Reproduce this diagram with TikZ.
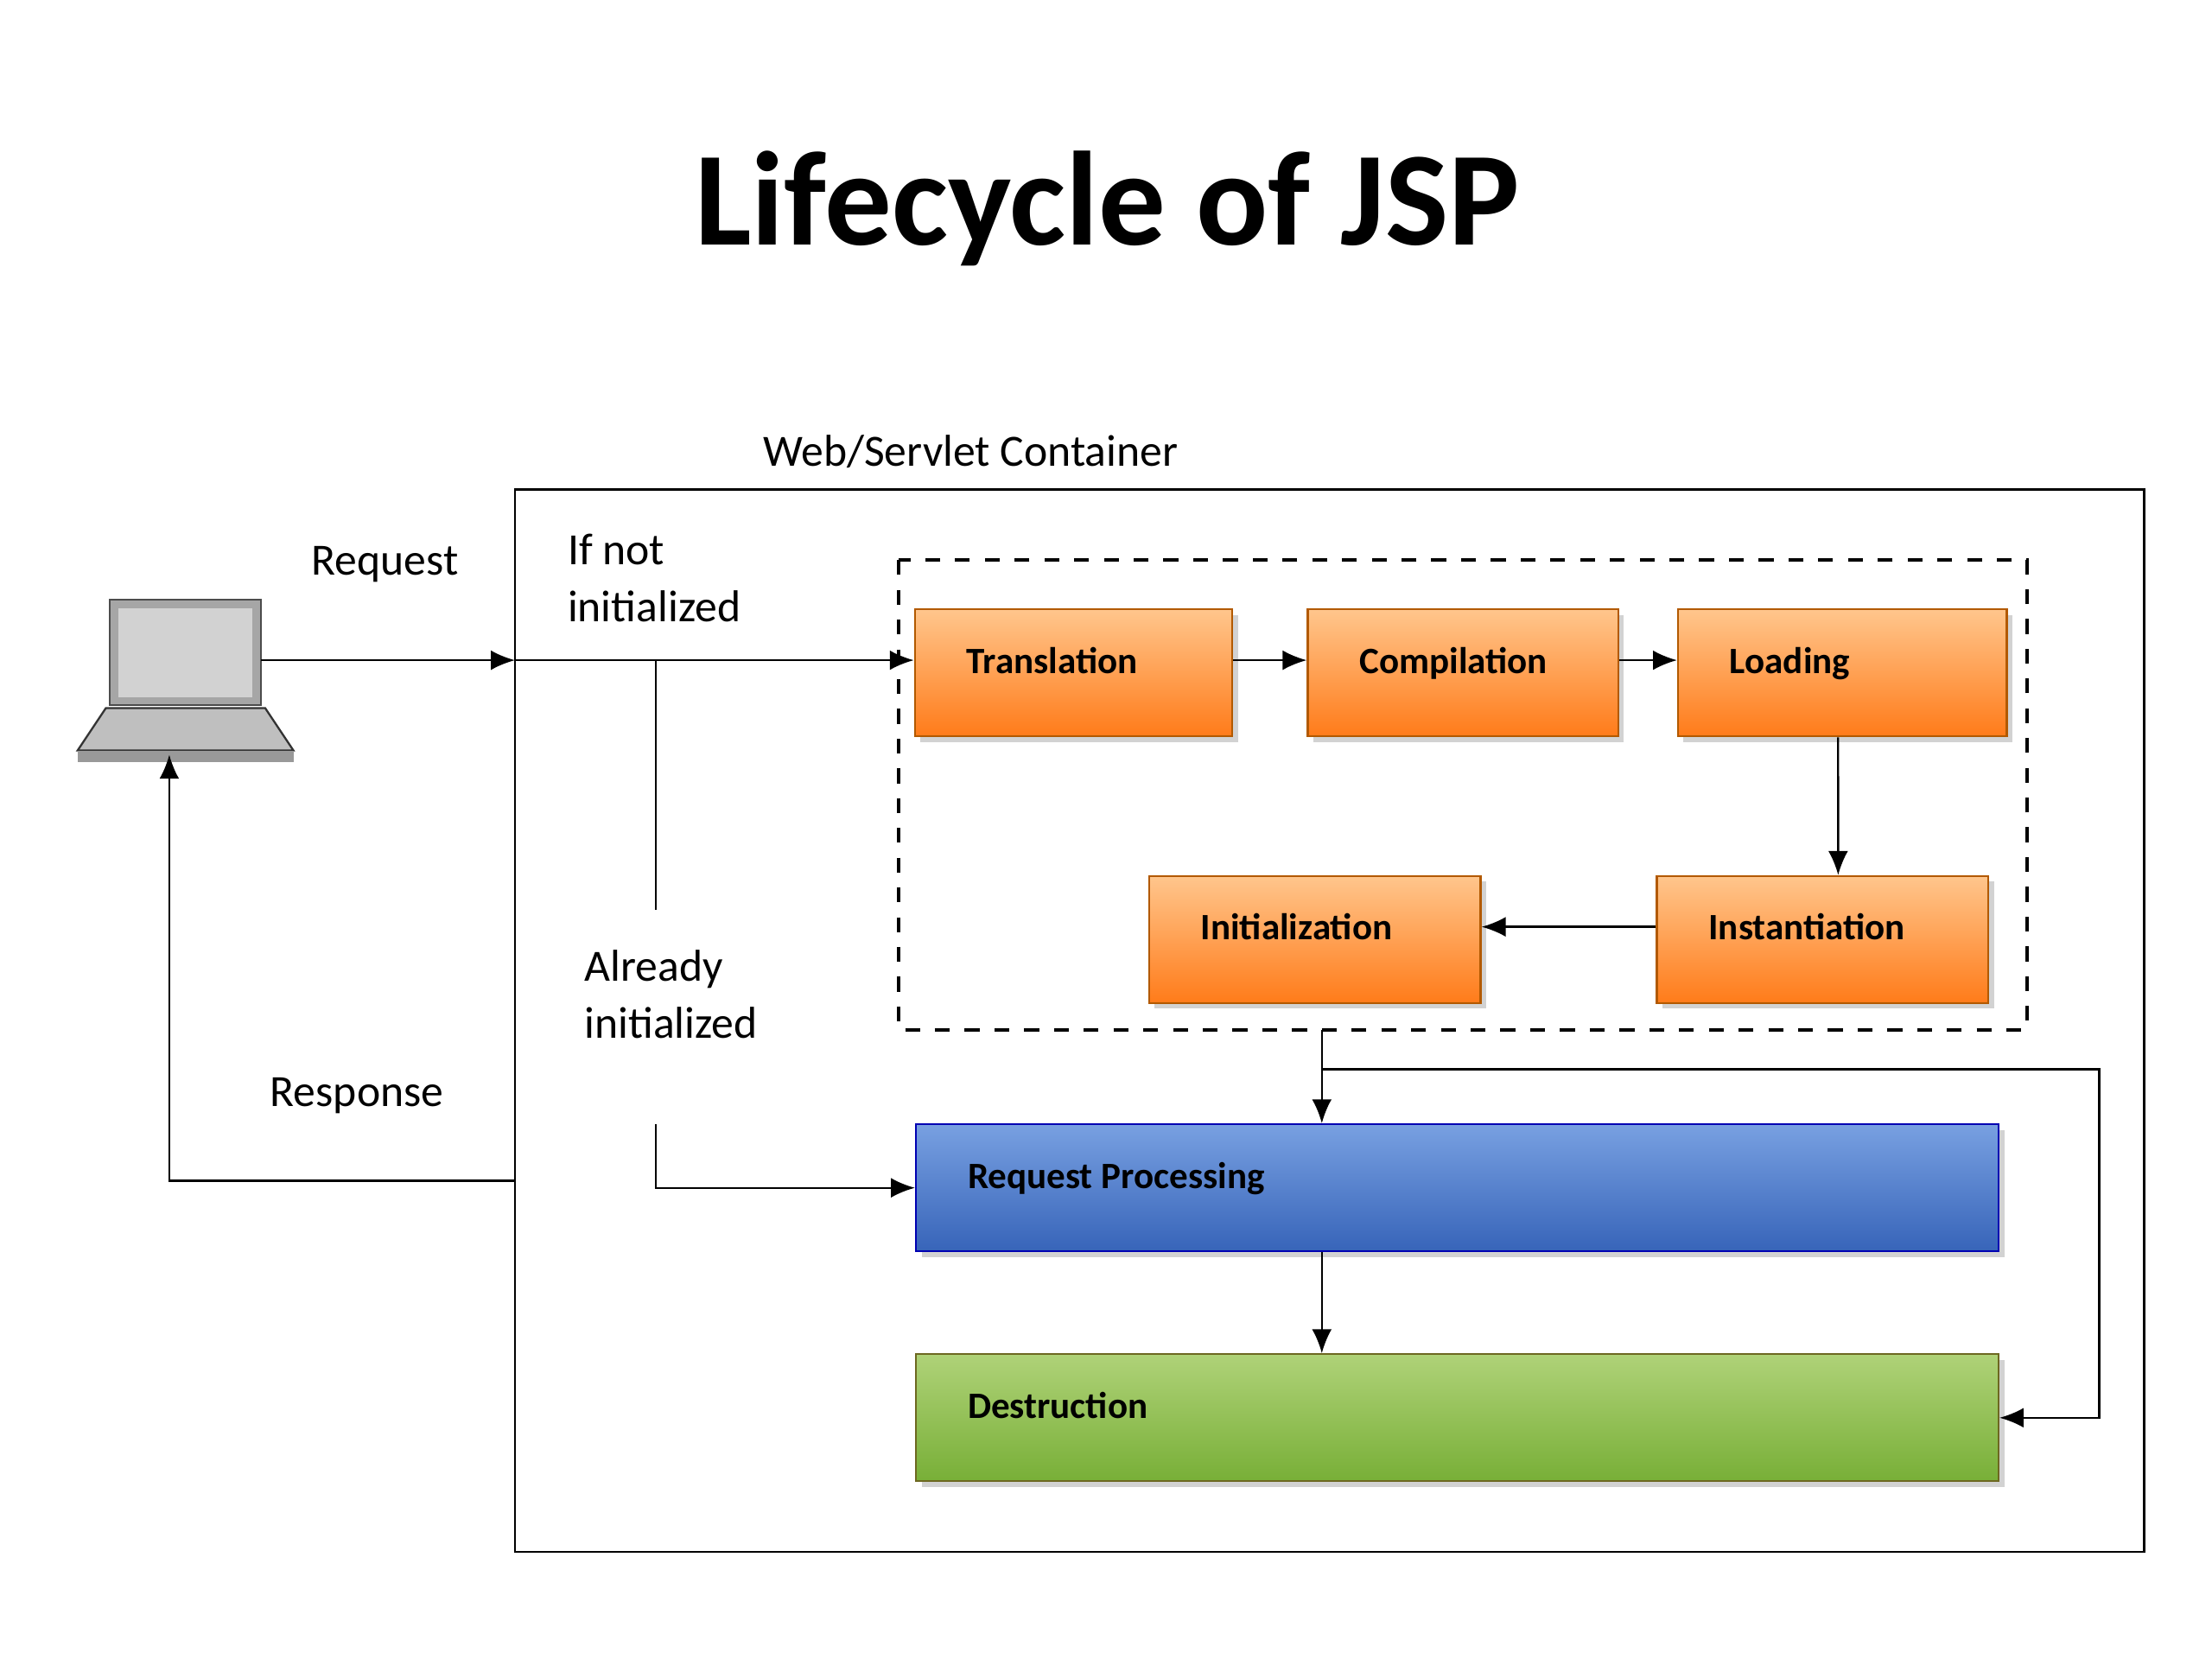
\documentclass[tikz,border=0pt]{standalone}
\usepackage{fontspec}
\setmainfont{Carlito}
\usetikzlibrary{positioning,arrows.meta,shadows}
\definecolor{procTop}{RGB}{120,160,225}
\definecolor{procBot}{RGB}{55,100,185}
\definecolor{destTop}{RGB}{175,210,120}
\definecolor{destBot}{RGB}{120,175,55}
\tikzset{
  stage/.style={draw=#1!70!black,thin,minimum height=0.9cm,inner sep=0,drop shadow={opacity=0.35,shadow xshift=0.04cm,shadow yshift=-0.04cm}},
  orange/.style={stage=orange,top color=orange!45,bottom color=orange!85!red!90,minimum width=2.25cm},
  lbl/.style={font=\bfseries\fontsize{7.5}{9}\selectfont,anchor=north west},
  txt/.style={font=\fontsize{9}{11.5}\selectfont,align=left},
  flow/.style={-{Latex[length=0.17cm,width=0.14cm]},thin},
  link/.style={thin}
}
\begin{document}
\begin{tikzpicture}[x=0.01cm,y=-0.01cm]
  \useasboundingbox[fill=white] (0,0) rectangle (1568,1176);
  % title
  \node[font=\bfseries\fontsize{27}{30}\selectfont] (title) at (785,148) {Lifecycle of JSP};
  % container
  \draw[thin] (365,347) rectangle (1520,1100);
  \node[txt] (cont) at (688,320) {Web/Servlet Container};
  \draw[dashed,thick] (637,397) rectangle (1437,730);
  % laptop
  \begin{scope}
    \fill[gray!70] (78,425) rectangle (185,500);
    \fill[gray!35] (84,431) rectangle (179,494);
    \draw[gray!60!black] (78,425) rectangle (185,500);
    \fill[gray!50,draw=gray!40!black] (75,502) -- (188,502) -- (208,532) -- (55,532) -- cycle;
    \fill[gray!80] (55,532) rectangle (208,540);
  \end{scope}
  \coordinate (pc) at (185,468);
  \coordinate (pcb) at (120,535);
  % stages
  \node[orange] (trans) at (761,477) {};
  \node[lbl] at ([xshift=0.25cm,yshift=-0.15cm]trans.north west) {Translation};
  \node[orange,minimum width=2.2cm] (comp) at (1037,477) {};
  \node[lbl] at ([xshift=0.25cm,yshift=-0.15cm]comp.north west) {Compilation};
  \node[orange,minimum width=2.33cm] (load) at (1306,477) {};
  \node[lbl] at ([xshift=0.25cm,yshift=-0.15cm]load.north west) {Loading};
  \node[orange,minimum width=2.35cm] (inst) at (1292,666) {};
  \node[lbl] at ([xshift=0.25cm,yshift=-0.15cm]inst.north west) {Instantiation};
  \node[orange,minimum width=2.35cm] (init) at (932,666) {};
  \node[lbl] at ([xshift=0.25cm,yshift=-0.15cm]init.north west) {Initialization};
  \node[stage=blue,top color=procTop,bottom color=procBot,minimum width=7.67cm] (proc) at (1033,842) {};
  \node[lbl] at ([xshift=0.25cm,yshift=-0.15cm]proc.north west) {Request Processing};
  \node[stage=olive,top color=destTop,bottom color=destBot,minimum width=7.67cm] (dest) at (1033,1005) {};
  \node[lbl] at ([xshift=0.25cm,yshift=-0.15cm]dest.north west) {Destruction};
  % labels
  \node[txt] (req) at (273,400) {Request};
  \node[txt,anchor=west] (notinit) at (390,410) {If not\\initialized};
  \node[txt,anchor=west] (already) at (402,705) {Already\\initialized};
  \node[txt] (resp) at (253,777) {Response};
  % connectors
  \coordinate (cin) at (365,468);
  \coordinate (split) at (465,468);
  \coordinate (ctop) at (465,645);
  \coordinate (cbot) at (465,797);
  \coordinate (rout) at (365,837);
  \coordinate (dbot) at (937,730);
  \coordinate (loop) at (937,758);
  \draw[flow] (pc) -- (cin);
  \draw[flow] (cin) -- (cin -| trans.west);
  \draw[link] (split) -- (ctop);
  \draw[flow] (cbot) |- (proc.west);
  \draw[flow] (rout) -| (pcb);
  \draw[flow] (cin -| trans.east) -- (cin -| comp.west);
  \draw[flow] (cin -| comp.east) -- (cin -| load.west);
  \draw[flow] ([xshift=-0.03cm]load.south) -- ([xshift=0.11cm]inst.north);
  \draw[flow] ([yshift=0.09cm]inst.west) -- ([yshift=0.09cm]init.east);
  \draw[flow] (dbot) -- (dbot |- proc.north);
  \draw[flow] (loop) -- (1488,758) |- (dest.east);
  \draw[flow] (dbot |- proc.south) -- (dbot |- dest.north);
\end{tikzpicture}
\end{document}
